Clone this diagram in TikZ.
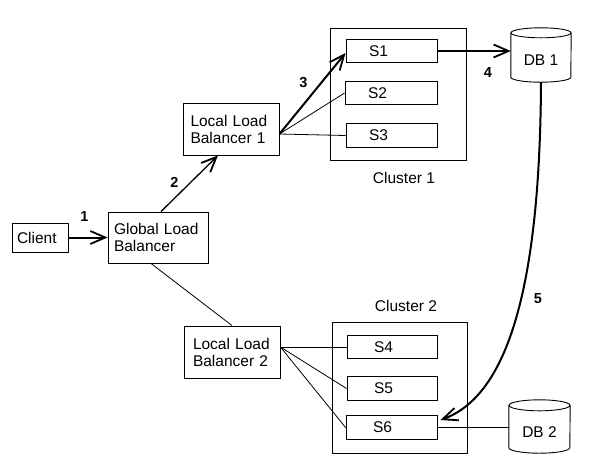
\documentclass[tikz,border=0pt]{standalone}
\usepackage{fontspec}
\setmainfont{Liberation Sans}
\usetikzlibrary{arrows.meta,calc}
\begin{document}
\begin{tikzpicture}[x=1pt,y=-1pt,
  every node/.style={font=\fontsize{15.5}{17}\selectfont},
  box/.style={draw, line width=0.9pt, inner ysep=0pt, align=left},
  sbox/.style={box, minimum height=23.5pt},
  cluster/.style={draw, line width=0.9pt, inner sep=0pt},
  dbbody/.style={inner sep=0pt, minimum width=60pt},
  dbline/.style={line width=0.9pt},
  lbl/.style={inner sep=0pt},
  num/.style={inner sep=0pt, font=\fontsize{14.5}{16}\selectfont\bfseries},
  arr/.style={line width=2pt, -{Straight Barb[length=15pt,width=13pt,line width=1.8pt]}},
  thinarr/.style={line width=1.3pt, -{Straight Barb[length=15pt,width=13pt,line width=1.8pt]}},
  link/.style={line width=0.8pt}]
\useasboundingbox (0,0) rectangle (591,475);

% clusters
\node[cluster, minimum width=136pt, minimum height=132pt] (cl1) at (398,94) {};
\node[cluster, minimum width=135pt, minimum height=131pt] (cl2) at (399.5,387.5) {};
\node[lbl] (cl1lbl) at (404,178) {Cluster 1};
\node[lbl] (cl2lbl) at (406,305.5) {Cluster 2};

% boxes
\node[box, minimum height=29pt, text width=46pt, inner xsep=5pt] (client) at (40,237.5) {Client};
\node[box, minimum height=51pt, text width=88pt, inner xsep=6pt] (glb) at (158,237.5) {Global Load\\Balancer};
\node[box, minimum height=52pt, text width=81pt, inner xsep=7.5pt] (llb1) at (231,129) {Local Load\\Balancer 1};
\node[box, minimum height=52pt, text width=78pt, inner xsep=9pt] (llb2) at (232,352) {Local Load\\Balancer 2};

\node[sbox, text width=45pt, inner xsep=23pt] (s1) at (391.5,51) {S1};
\node[sbox, text width=46pt, inner xsep=23pt] (s2) at (391,93) {S2};
\node[sbox, text width=45pt, inner xsep=23pt] (s3) at (391.5,135.5) {S3};
\node[sbox, text width=36pt, inner xsep=27pt] (s4) at (392,347) {S4};
\node[sbox, text width=36pt, inner xsep=27pt] (s5) at (392,388.5) {S5};
\node[sbox, text width=37pt, inner xsep=27pt] (s6) at (391.5,427.5) {S6};

% databases
\node[dbbody, minimum height=44pt] (db1) at (541,60) {DB 1};
\draw[dbline] ($(db1.north)+(0,-5)$) ellipse [x radius=30pt, y radius=5pt];
\draw[dbline] ($(db1.north west)+(0,-5)$) -- ($(db1.south west)+(0,-5)$)
  arc [start angle=180, end angle=360, x radius=30pt, y radius=5pt]
  -- ($(db1.north east)+(0,-5)$);
\node[dbbody, minimum width=61pt, minimum height=42pt] (db2) at (539.5,432) {DB 2};
\draw[dbline] ($(db2.north)+(0,-5.5)$) ellipse [x radius=30.5pt, y radius=5.5pt];
\draw[dbline] ($(db2.north west)+(0,-5.5)$) -- ($(db2.south west)+(0,-5.5)$)
  arc [start angle=180, end angle=360, x radius=30.5pt, y radius=5.5pt]
  -- ($(db2.north east)+(0,-5.5)$);

% fan points
\coordinate (f1) at ([yshift=-5pt]llb1.east);
\coordinate (f2) at ([yshift=5pt]llb2.east);
\coordinate (t5) at ([xshift=3pt,yshift=7.5pt]s6.east);

% connectors
\draw[arr] (client.east) -- (glb.west);
\draw[thinarr] ([xshift=3pt]glb.north) -- ([xshift=-13pt]llb1.south);
\draw[link] ([xshift=-7pt]glb.south) -- (llb2.north);
\draw[arr] (f1) -- ([yshift=-2pt]s1.west);
\draw[link] (f1) -- (s2.west);
\draw[link] (f1) -- (s3.west);
\draw[arr] (s1.east) -- (s1.east -| db1.west);
\draw[link] (f2) -- (s4.west);
\draw[link] (f2) -- (s5.west);
\draw[link] (f2) -- (s6.west);
\draw[link] (s6.east) -- (s6.east -| db2.west);
\draw[arr] (db1.south) .. controls (540,280) and (510,395) .. (t5);

% step numbers
\node[num] (n1) at (84.5,217) {1};
\node[num] (n2) at (174.5,182.5) {2};
\node[num] (n3) at (303.5,83) {3};
\node[num] (n4) at (488,73) {4};
\node[num] (n5) at (538,299) {5};
\end{tikzpicture}
\end{document}
